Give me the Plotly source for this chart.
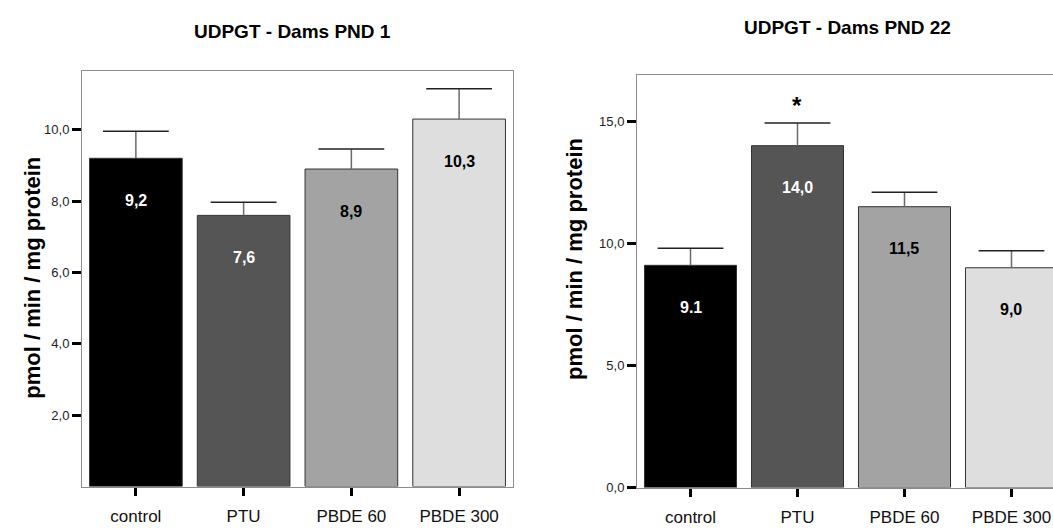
import plotly.graph_objects as go

categories = ["control", "PTU", "PBDE 60", "PBDE 300"]

pnd1_values = [9.2, 7.6, 8.9, 10.3]
pnd1_errors = [0.76, 0.37, 0.56, 0.85]
pnd1_labels = ["9,2", "7,6", "8,9", "10,3"]

pnd22_values = [9.1, 14.0, 11.5, 9.0]
pnd22_errors = [0.7, 0.93, 0.59, 0.7]
pnd22_labels = ["9.1", "14,0", "11,5", "9,0"]

pnd1_ticks = [2, 4, 6, 8, 10]
pnd1_ticktext = ["2,0", "4,0", "6,0", "8,0", "10,0"]
pnd22_ticks = [0, 5, 10, 15]
pnd22_ticktext = ["0,0", "5,0", "10,0", "15,0"]

bar_colors = ["#000000", "#555555", "#a3a3a3", "#dedede"]
label_colors = ["white", "white", "black", "black"]

W, H = 1053, 530
FONT = "Liberation Sans, Arial, sans-serif"


def px_x(p):
    return p / W


def px_y(p):
    return (H - p) / H


fig = go.Figure()

for vals, errs, xa, ya in [
    (pnd1_values, pnd1_errors, "x", "y"),
    (pnd22_values, pnd22_errors, "x2", "y2"),
]:
    fig.add_trace(go.Bar(
        x=categories, y=vals, xaxis=xa, yaxis=ya,
        width=0.86,
        marker=dict(color=bar_colors, line=dict(color="#333333", width=1)),
        error_y=dict(type="data", array=errs, arrayminus=[0] * len(errs),
                     symmetric=False, color="#6a6a6a", thickness=1.5, width=0),
        hoverinfo="skip",
    ))
    fig.add_trace(go.Scatter(
        x=categories, y=[v + e for v, e in zip(vals, errs)], xaxis=xa, yaxis=ya,
        mode="markers",
        marker=dict(symbol="line-ew", size=47, line=dict(color="#222222", width=1.5)),
        hoverinfo="skip", cliponaxis=False,
    ))

annotations = []
for vals, labels, xr, yr in [
    (pnd1_values, pnd1_labels, "x", "y"),
    (pnd22_values, pnd22_labels, "x2", "y2"),
]:
    for c, v, t, col in zip(categories, vals, labels, label_colors):
        annotations.append(dict(
            x=c, y=v, xref=xr, yref=yr, text="<b>" + t + "</b>", showarrow=False,
            xanchor="center", yanchor="middle",
            yshift=-42, font=dict(family=FONT, size=16, color=col),
        ))

# significance marker
annotations.append(dict(
    x="PTU", y=pnd22_values[1] + pnd22_errors[1], xref="x2", yref="y2",
    text="<b>*</b>", showarrow=False, yshift=17, xanchor="center", yanchor="middle",
    font=dict(family=FONT, size=24, color="black"),
))

# titles
annotations.append(dict(x=px_x(292), y=px_y(32), xref="paper", yref="paper",
                        xanchor="center", yanchor="middle",
                        text="<b>UDPGT - Dams PND 1</b>", showarrow=False,
                        font=dict(family=FONT, size=19, color="black")))
annotations.append(dict(x=px_x(847), y=px_y(28), xref="paper", yref="paper",
                        xanchor="center", yanchor="middle",
                        text="<b>UDPGT - Dams PND 22</b>", showarrow=False,
                        font=dict(family=FONT, size=19, color="black")))
# y-axis titles
annotations.append(dict(x=px_x(33), y=px_y(282), xref="paper", yref="paper",
                        xanchor="center", yanchor="middle",
                        text="<b>pmol / min / mg protein</b>", showarrow=False, textangle=-90,
                        font=dict(family=FONT, size=22, color="black")))
annotations.append(dict(x=px_x(574), y=px_y(263), xref="paper", yref="paper",
                        xanchor="center", yanchor="middle",
                        text="<b>pmol / min / mg protein</b>", showarrow=False, textangle=-90,
                        font=dict(family=FONT, size=22, color="black")))

xcommon = dict(
    type="category", showgrid=False, zeroline=False,
    showline=True, linecolor="#8c8c8c", linewidth=1,
    ticks="outside", ticklen=8, tickwidth=3, tickcolor="black",
    tickfont=dict(family=FONT, size=17, color="#111111"),
    ticklabelstandoff=6,
    fixedrange=True,
)
ycommon = dict(
    showgrid=False, zeroline=False,
    showline=True, linecolor="#8c8c8c", linewidth=1,
    ticks="outside", ticklen=9, tickwidth=3, tickcolor="black",
    tickfont=dict(family=FONT, size=13, color="#222222"),
    fixedrange=True,
)

fig.update_layout(
    width=W, height=H,
    margin=dict(l=0, r=0, t=0, b=0),
    paper_bgcolor="white", plot_bgcolor="white",
    showlegend=False,
    hovermode=False,
    xaxis=dict(xcommon, domain=[px_x(82), px_x(513)], range=[-0.5, 3.5], mirror=True, anchor="y"),
    yaxis=dict(ycommon, domain=[px_y(494), px_y(72)], range=[0, 11.65],
               tickvals=pnd1_ticks, ticktext=pnd1_ticktext, mirror=True, anchor="x"),
    xaxis2=dict(xcommon, domain=[px_x(637), 1.0], range=[-0.5, 3.388], mirror=True, anchor="y2"),
    yaxis2=dict(ycommon, domain=[px_y(495), px_y(76)], range=[0, 16.9],
                tickvals=pnd22_ticks, ticktext=pnd22_ticktext, mirror=False, anchor="x2"),
    annotations=annotations,
)

fig.write_html("out.html", config={"displayModeBar": False})
